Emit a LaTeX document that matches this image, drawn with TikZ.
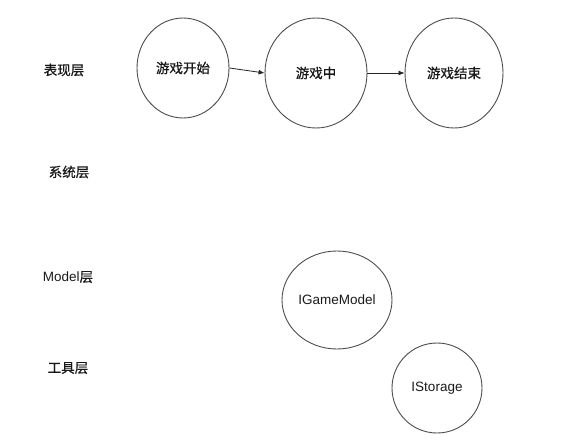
\documentclass[tikz,border=0pt]{standalone}
\usepackage{fontspec}
\setmainfont{Liberation Sans}
\newfontfamily\cjk{Noto Sans CJK SC}[FakeBold=0.7]
\usetikzlibrary{shapes.geometric,arrows.meta}
\begin{document}
\begin{tikzpicture}[x=1pt,y=-1pt,
  lay/.style={font=\fontsize{13.5}{15}\selectfont, text=black!90},
  st/.style={ellipse, draw=black!70, line width=0.9pt, inner sep=0pt, font=\fontsize{13.5}{15}\selectfont, text=black!90},
  arr/.style={-{Latex[length=6pt,width=5pt]}, draw=black!85, line width=0.8pt}]
\useasboundingbox (0,0) rectangle (578,439);
\node[lay] (l1) at (64,70) {\cjk 表现层};
\node[lay] (l2) at (69,172) {\cjk 系统层};
\node[lay] (l3) at (68,277) {Model{\cjk 层}};
\node[lay] (l4) at (68,368) {\cjk 工具层};
\node[st, minimum width=92pt, minimum height=100pt] (s1) at (183,68) {\cjk 游戏开始};
\node[st, minimum width=102pt, minimum height=110pt] (s2) at (316,73) {\cjk 游戏中};
\node[st, minimum width=98pt, minimum height=110pt] (s3) at (454,73) {\cjk 游戏结束};
\node[st, minimum width=110pt, minimum height=98pt] (m) at (337,300) {IGameModel};
\node[st, minimum width=90pt, minimum height=90pt] (t) at (437,388) {IStorage};
\draw[arr] (s1.east) -- (s2.west);
\draw[arr] (s2.east) -- (s3.west);
\end{tikzpicture}
\end{document}
